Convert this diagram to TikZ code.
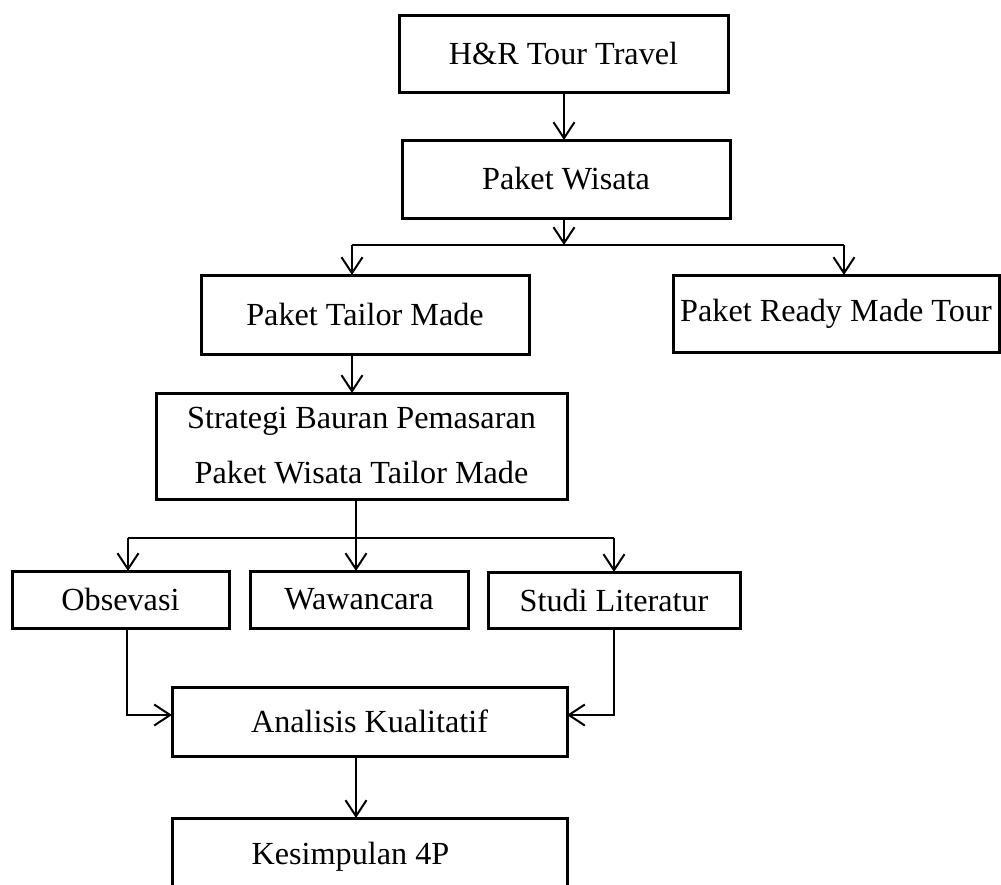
\documentclass[tikz,border=0pt]{standalone}
\usepackage{fontspec}
\setmainfont{Liberation Serif}
\usetikzlibrary{arrows.meta}
\begin{document}
\begin{tikzpicture}[x=0.5pt,y=-0.5pt,
  box/.style={draw,line width=1.5pt,rectangle,inner sep=0pt,outer sep=0pt,align=center,
    font=\fontsize{16.1}{27.5}\selectfont},
  conn/.style={line width=1pt},
  arr/.style={conn,-{Straight Barb[length=8pt,width=10.5pt]}}]
\useasboundingbox (0,0) rectangle (1001,884);
\clip (0,0) rectangle (1001,884);
\node[box,minimum width=164.5pt,minimum height=38.5pt] (hr) at (563.5,53.5) {H\&R Tour Travel};
\node[box,minimum width=164pt,minimum height=39pt] (pw) at (566,179) {Paket Wisata};
\node[box,minimum width=164pt,minimum height=39.5pt] (ptm) at (365,314.5) {Paket Tailor Made};
\node[box,minimum width=163pt,minimum height=38.5pt] (prm) at (836,313.5) {Paket Ready Made Tour};
\node[box,minimum width=205.5pt,minimum height=53pt] (sb) at (361.5,446) {Strategi Bauran Pemasaran\\Paket Wisata Tailor Made};
\node[box,minimum width=108.5pt,minimum height=28.5pt] (obs) at (120.5,599.5) {Obsevasi};
\node[box,minimum width=109pt,minimum height=28.5pt] (waw) at (359,599.5) {Wawancara};
\node[box,minimum width=126pt,minimum height=28pt] (stu) at (614,600) {Studi Literatur};
\node[box,minimum width=197.5pt,minimum height=34.5pt] (ak) at (369.5,721.5) {Analisis Kualitatif};
\node[box,minimum width=197.5pt,minimum height=39pt] (kes) at (369.5,857) {Kesimpulan 4P\hspace{19pt}};
% top chain
\coordinate (c1) at (564,0);
\draw[arr] (c1 |- hr.south) -- (c1 |- pw.north);
\coordinate (j1) at (564,245);
\draw[arr] (c1 |- pw.south) -- (j1);
\coordinate (a1) at (352,245);
\coordinate (a2) at (844,245);
\draw[conn] (a1) -- (a2);
\draw[arr] (a1) -- (a1 |- ptm.north);
\draw[arr] (a2) -- (a2 |- prm.north);
\draw[arr] (a1 |- ptm.south) -- (a1 |- sb.north);
% second split
\coordinate (b0) at (356,538);
\coordinate (b1) at (128,538);
\coordinate (b2) at (614,538);
\draw[arr] (b0 |- sb.south) -- (b0 |- waw.north);
\draw[conn] (b1) -- (b2);
\draw[arr] (b1) -- (b1 |- obs.north);
\draw[arr] (b2) -- (b2 |- stu.north);
% merge
\coordinate (m1) at (127,715);
\coordinate (m2) at (614,715);
\draw[arr] (m1 |- obs.south) -- (m1) -- (m1 -| ak.west);
\draw[arr] (m2 |- stu.south) -- (m2) -- (m2 -| ak.east);
\draw[arr] (b0 |- ak.south) -- (b0 |- kes.north);
\end{tikzpicture}
\end{document}
